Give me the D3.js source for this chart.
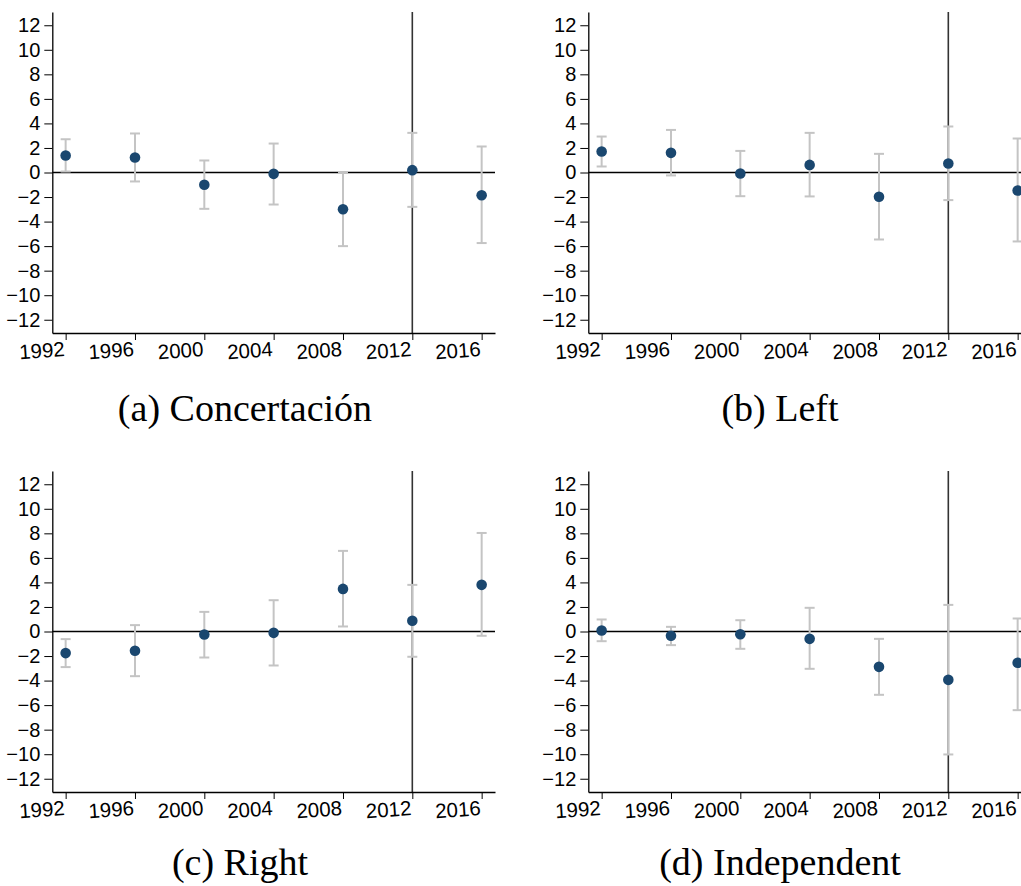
<!DOCTYPE html>
<html>
<head>
<meta charset="utf-8">
<script src="https://cdn.jsdelivr.net/npm/d3@7"></script>
<style>
  html, body { margin: 0; padding: 0; background: #fff; }
  svg { display: block; }
  .tk text { font-family: 'Liberation Sans', Arial, sans-serif; fill: #000; }
</style>
</head>
<body>
<svg id="chart" width="1021" height="886"></svg>
<script>
// ---- Data ----
const years = [1992, 1996, 2000, 2004, 2008, 2012, 2016];
const yTicks = [-12, -10, -8, -6, -4, -2, 0, 2, 4, 6, 8, 10, 12];

const concertacionEst = [1.38, 1.22, -1.00, -0.11, -2.99, 0.19, -1.85];
const concertacionLo  = [0.08, -0.73, -2.96, -2.61, -6.00, -2.80, -5.75];
const concertacionHi  = [2.71, 3.18, 0.98, 2.36, 0.00, 3.23, 2.12];

const leftEst = [1.71, 1.60, -0.08, 0.62, -1.98, 0.73, -1.47];
const leftLo  = [0.49, -0.24, -1.93, -1.95, -5.46, -2.25, -5.62];
const leftHi  = [2.93, 3.47, 1.76, 3.23, 1.52, 3.75, 2.77];

const rightEst = [-1.76, -1.57, -0.24, -0.11, 3.47, 0.87, 3.80];
const rightLo  = [-2.90, -3.64, -2.12, -2.77, 0.41, -2.06, -0.35];
const rightHi  = [-0.62, 0.52, 1.60, 2.55, 6.57, 3.80, 8.03];

const indepEst = [0.08, -0.35, -0.22, -0.60, -2.88, -3.94, -2.55];
const indepLo  = [-0.79, -1.11, -1.41, -3.04, -5.16, -10.02, -6.41];
const indepHi  = [0.98, 0.38, 0.92, 1.93, -0.60, 2.17, 1.06];

const captions = ["(a) Concertación", "(b) Left", "(c) Right", "(d) Independent"];
const refYear = 2012;

// ---- Layout ----
const panels = [
  { est: concertacionEst, lo: concertacionLo, hi: concertacionHi, left: 52.3, top: 12, cap: captions[0], capX: 245, capY: 421 },
  { est: leftEst, lo: leftLo, hi: leftHi, left: 588.3, top: 12, cap: captions[1], capX: 780, capY: 421 },
  { est: rightEst, lo: rightLo, hi: rightHi, left: 52.3, top: 471, cap: captions[2], capX: 240, capY: 875 },
  { est: indepEst, lo: indepLo, hi: indepHi, left: 588.3, top: 471, cap: captions[3], capX: 780, capY: 875 }
];
const W = 442.7, H = 321;
const svg = d3.select("#chart");

panels.forEach(p => {
  const g = svg.append("g").attr("transform", `translate(${p.left},${p.top})`);
  const x = d3.scaleLinear().domain([1991.23, 2016.77]).range([0, W]);
  const y = d3.scaleLinear().domain([-13.08, 13.08]).range([H, 0]);

  // zero line
  g.append("line").attr("x1", 0).attr("x2", W)
    .attr("y1", y(0)).attr("y2", y(0))
    .attr("stroke", "#000").attr("stroke-width", 1.6);

  // reference vertical line
  g.append("line").attr("x1", x(refYear)).attr("x2", x(refYear))
    .attr("y1", 0).attr("y2", H)
    .attr("stroke", "#333").attr("stroke-width", 1.6);

  const rows = years.map((yr, i) => ({ yr, est: p.est[i], lo: p.lo[i], hi: p.hi[i] }));

  // error bars
  const eb = g.append("g").attr("stroke", "#c4c4c4").attr("stroke-width", 2).attr("fill", "none");
  rows.forEach(d => {
    eb.append("line").attr("x1", x(d.yr)).attr("x2", x(d.yr)).attr("y1", y(d.lo)).attr("y2", y(d.hi));
    eb.append("line").attr("x1", x(d.yr) - 5).attr("x2", x(d.yr) + 5).attr("y1", y(d.lo)).attr("y2", y(d.lo));
    eb.append("line").attr("x1", x(d.yr) - 5).attr("x2", x(d.yr) + 5).attr("y1", y(d.hi)).attr("y2", y(d.hi));
  });

  // points
  g.selectAll("circle.pt").data(rows).enter().append("circle")
    .attr("class", "pt")
    .attr("cx", d => x(d.yr)).attr("cy", d => y(d.est))
    .attr("r", 5.3).attr("fill", "#1a476f");

  // y axis
  const ya = g.append("g").attr("class", "tk")
    .call(d3.axisLeft(y).tickValues(yTicks).tickSize(8).tickPadding(4).tickSizeOuter(0));
  ya.attr("font-size", null).attr("font-family", null);
  ya.select(".domain").attr("stroke", "#000").attr("stroke-width", 1.3);
  ya.selectAll(".tick line").attr("stroke", "#000").attr("stroke-width", 1);
  ya.selectAll(".tick text").style("font-size", "20px");

  // x axis
  const xa = g.append("g").attr("class", "tk").attr("transform", `translate(0,${H})`)
    .call(d3.axisBottom(x).tickValues(years).tickFormat(d3.format("d")).tickSize(7).tickSizeOuter(0));
  xa.attr("font-size", null).attr("font-family", null);
  xa.select(".domain").attr("stroke", "#000").attr("stroke-width", 1.3);
  xa.selectAll(".tick line").attr("stroke", "#000").attr("stroke-width", 1);
  xa.selectAll(".tick text")
    .style("font-size", "20.5px")
    .attr("text-anchor", "end")
    .attr("x", -1).attr("y", 23).attr("dy", 0)
    .attr("transform", "rotate(-4, 0, 23)");

  // caption
  svg.append("text").attr("x", p.capX).attr("y", p.capY)
    .attr("text-anchor", "middle")
    .attr("font-family", "'Liberation Serif', 'Times New Roman', serif")
    .attr("font-size", 38).attr("fill", "#000")
    .text(p.cap);
});
</script>
</body>
</html>
